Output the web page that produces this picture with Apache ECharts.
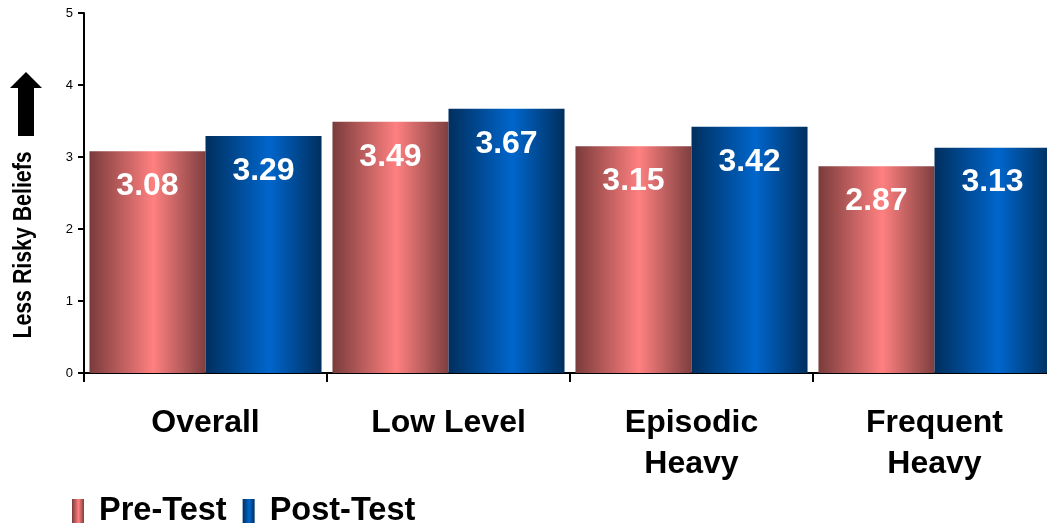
<!DOCTYPE html>
<html>
<head>
<meta charset="utf-8">
<script src="https://cdn.jsdelivr.net/npm/echarts@6/dist/echarts.min.js"></script>
<style>
  html, body { margin: 0; padding: 0; background: #fff; }
  #chart { width: 1047px; height: 523px; }
</style>
</head>
<body>
<div id="chart"></div>
<script>
// Mean belief scores by drinking group, before and after the program
const categories = ['Overall', 'Low Level', 'Episodic\nHeavy', 'Frequent\nHeavy'];
const preTest = [3.08, 3.49, 3.15, 2.87];
const postTest = [3.29, 3.67, 3.42, 3.13];
const seriesNames = ['Pre-Test', 'Post-Test'];
const yTicks = { min: 0, max: 5, interval: 1 };

const FONT = "'Liberation Sans', Arial, sans-serif";

// Cylinder-like horizontal shading for each series
function shade(edgeL, mid, edgeR) {
  return new echarts.graphic.LinearGradient(0, 0, 1, 0, [
    { offset: 0, color: edgeL },
    { offset: 0.55, color: mid },
    { offset: 1, color: edgeR }
  ]);
}
const preFill = shade('#7a3b3b', '#ff8080', '#7e3f3f');
const postFill = shade('#002f5e', '#0066cc', '#002f5e');

const valueLabel = {
  show: true,
  position: 'insideTop',
  distance: 19,
  color: '#fff',
  fontFamily: FONT,
  fontWeight: 'bold',
  fontSize: 32,
  formatter: p => p.value.toFixed(2)
};

const chart = echarts.init(document.getElementById('chart'), null, { renderer: 'canvas' });
chart.setOption({
  animation: false,
  backgroundColor: '#fff',
  // plot area runs a little past the right edge of the canvas
  grid: { left: 84, width: 972, top: 13, bottom: 150, containLabel: false, outerBoundsMode: 'none' },
  legend: {
    left: 67,
    top: 490,
    itemWidth: 12,
    itemHeight: 25,
    itemGap: 16,
    icon: 'rect',
    data: seriesNames,
    textStyle: { fontFamily: FONT, fontWeight: 'bold', fontSize: 32.5, color: '#000', padding: [0, 0, 0, 10] }
  },
  xAxis: {
    type: 'category',
    data: categories,
    axisLine: { lineStyle: { color: '#000', width: 2 } },
    axisTick: { show: true, alignWithLabel: false, length: 9, lineStyle: { color: '#000', width: 2 } },
    axisLabel: {
      color: '#000',
      fontFamily: FONT,
      fontWeight: 'bold',
      fontSize: 32,
      lineHeight: 41,
      margin: 30,
      interval: 0
    }
  },
  yAxis: {
    type: 'value',
    min: yTicks.min,
    max: yTicks.max,
    interval: yTicks.interval,
    splitLine: { show: false },
    axisLine: { show: true, lineStyle: { color: '#000', width: 2 } },
    axisTick: { show: true, length: 6, lineStyle: { color: '#000', width: 2 } },
    axisLabel: { color: '#000', fontFamily: FONT, fontSize: 13, margin: 11 }
  },
  series: [
    {
      name: seriesNames[0],
      type: 'bar',
      data: preTest,
      barGap: '0%',
      barCategoryGap: '4.5%',
      itemStyle: { color: preFill },
      label: valueLabel
    },
    {
      name: seriesNames[1],
      type: 'bar',
      data: postTest,
      barGap: '0%',
      barCategoryGap: '4.5%',
      itemStyle: { color: postFill },
      label: valueLabel
    }
  ],
  graphic: [
    {
      type: 'polygon',
      shape: { points: [[26, 72], [42, 88], [34, 88], [34, 136], [18, 136], [18, 88], [10, 88]] },
      style: { fill: '#000' }
    },
    {
      // condensed axis title reading bottom to top
      type: 'text',
      x: 24,
      y: 245,
      rotation: Math.PI / 2,
      scaleX: 0.82,
      style: {
        text: 'Less Risky Beliefs',
        fill: '#000',
        font: "bold 26px 'Liberation Sans', Arial, sans-serif",
        align: 'center',
        verticalAlign: 'middle'
      }
    }
  ]
});
</script>
</body>
</html>
